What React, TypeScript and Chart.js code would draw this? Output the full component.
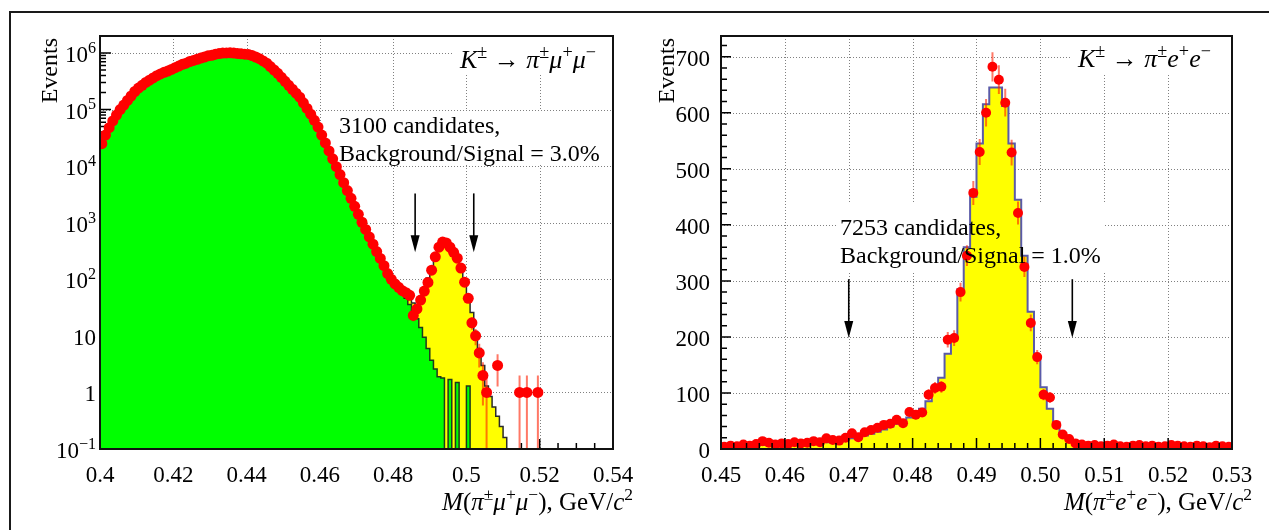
import React, { useEffect, useRef } from "react";
import { Chart, registerables } from "chart.js";

Chart.register(...registerables);

const SERIF = '"Liberation Serif", "Times New Roman", "DejaVu Serif", serif';

// ---------------- Left panel: K± → π± μ+ μ− (1 MeV bins from 0.400 GeV) ----------------
const muBinStart = 0.4;
const muBinWidth = 0.001;
const muData = [
  25000, 35500, 48000, 63000, 80000, 100000, 120000, 145000, 174000, 209000,
  240000, 269000, 302000, 331000, 363000, 398000, 427000, 457000, 479000, 513000,
  550000, 589000, 631000, 661000, 708000, 741000, 776000, 813000, 851000, 891000,
  912000, 955000, 977000, 1000000, 1005000, 1010000, 1000000, 985000, 970000, 955000,
  944000, 902000, 851000, 794000, 724000, 661000, 575000, 501000, 437000, 372000,
  316000, 269000, 229000, 195000, 166000, 132000, 105000, 83000, 64600, 49000,
  35500, 25700, 18600, 13500, 9800, 7100, 5100, 3700, 2700, 1950,
  1410, 1020, 760, 560, 417, 309, 234, 174, 126, 100,
  83, 72, 63, 58, 52, 23, 30, 43, 62, 88,
  145, 250, 370, 455, 440, 370, 300, 236, 158, 89,
  46, 17, 10, 5, 2, 1, 0, 0, 3, 0,
  0, 0, 0, 0, 1, 0, 1, 0, 0, 1,
];
const muBackgroundMC = [
  25000, 35500, 48000, 63000, 80000, 100000, 120000, 145000, 174000, 209000,
  240000, 269000, 302000, 331000, 363000, 398000, 427000, 457000, 479000, 513000,
  550000, 589000, 631000, 661000, 708000, 741000, 776000, 813000, 851000, 891000,
  912000, 955000, 977000, 1000000, 1005000, 1010000, 1000000, 985000, 970000, 955000,
  944000, 902000, 851000, 794000, 724000, 661000, 575000, 501000, 437000, 372000,
  316000, 269000, 229000, 195000, 166000, 132000, 105000, 83000, 64600, 49000,
  35500, 25700, 18600, 13500, 9800, 7100, 5100, 3700, 2700, 1950,
  1410, 1020, 760, 560, 417, 309, 225, 165, 118, 92,
  80, 68, 56, 46, 36, 27, 20, 14, 9.5, 6,
  3.7, 2.6, 1.9, 1.8, 0, 1.7, 0, 1.5, 0, 0,
  1.3, 0, 0, 0, 0, 0, 0, 0, 0, 0,
  0, 0, 0, 0, 0, 0, 0, 0, 0, 0,
];
const muSignalMC = [
  0, 0, 0, 0, 0, 0, 0, 0, 0, 0,
  0, 0, 0, 0, 0, 0, 0, 0, 0, 0,
  0, 0, 0, 0, 0, 0, 0, 0, 0, 0,
  0, 0, 0, 0, 0, 0, 0, 0, 0, 0,
  0, 0, 0, 0, 0, 0, 0, 0, 0, 0,
  0, 0, 0, 0, 0, 0, 0, 0, 0, 0,
  0, 0, 0, 0, 0, 0, 0, 0, 0, 0,
  0, 0, 0, 0, 0, 0, 0, 0, 0, 0,
  1, 1, 2, 4, 8, 11, 16, 32, 58, 99,
  161, 252, 348, 418, 440, 398, 320, 228, 150, 90,
  49, 26, 12, 6, 3, 1.3, 0.85, 0.55, 0.38, 0.25,
  0.16, 0.1, 0, 0, 0, 0, 0, 0, 0, 0,
];
const muXTicks = [0.4, 0.42, 0.44, 0.46, 0.48, 0.5, 0.52, 0.54];
const muYTicks = [0.1, 1, 10, 100, 1000, 10000, 100000, 1000000];
const muArrowX = [0.486, 0.502];
const muArrowY = [3300, 300]; // tail, tip

// ---------------- Right panel: K± → π± e+ e− (1 MeV bins from 0.450 GeV) ----------------
const eeBinStart = 0.45;
const eeBinWidth = 0.001;
const eeData = [
  4, 6, 5, 8, 6, 9, 14, 11, 8, 10,
  9, 12, 10, 11, 14, 12, 19, 16, 15, 20,
  28, 21, 30, 34, 38, 43, 45, 52, 46, 66,
  61, 65, 97, 109, 111, 195, 198, 280, 345, 457,
  530, 600, 682, 659, 618, 529, 421, 325, 225, 164,
  97, 92, 43, 26, 18, 10, 8, 6, 7, 5,
  6, 8, 5, 4, 6, 7, 5, 6, 4, 5,
  7, 6, 5, 4, 6, 5, 3, 6, 5, 4,
];
const eeMC = [
  5, 5, 5, 6, 6, 6, 7, 7, 7, 8,
  8, 9, 9, 10, 10, 11, 12, 13, 15, 17,
  19, 21, 24, 27, 31, 35, 40, 45, 50, 56,
  63, 72, 85, 110, 127, 170, 200, 285, 360, 450,
  545, 615, 645, 645, 612, 545, 445, 345, 245, 165,
  110, 72, 45, 28, 18, 12, 9, 7, 6, 6,
  5, 5, 5, 5, 4, 5, 5, 4, 5, 5,
  4, 5, 4, 5, 5, 4, 5, 4, 5, 4,
];
const eeXTicks = [0.45, 0.46, 0.47, 0.48, 0.49, 0.5, 0.51, 0.52, 0.53];
const eeYTicks = [0, 100, 200, 300, 400, 500, 600, 700];
const eeArrowX = [0.47, 0.505];
const eeArrowY = [303, 198];

// ---------------- helpers ----------------
type Seg = { t: string; it?: boolean; sup?: boolean };

function drawRich(ctx: CanvasRenderingContext2D, segs: Seg[], x: number, baseline: number, size: number, align: "left" | "right" = "left") {
  const supSize = size * 0.7;
  const font = (s: Seg) => `${s.it ? "italic " : ""}${s.sup ? supSize : size}px ${SERIF}`;
  const widths = segs.map((s) => {
    ctx.font = font(s);
    return ctx.measureText(s.t).width;
  });
  const total = widths.reduce((a, b) => a + b, 0);
  let cx = align === "right" ? x - total : x;
  ctx.textAlign = "left";
  ctx.textBaseline = "alphabetic";
  ctx.fillStyle = "#000";
  segs.forEach((s, i) => {
    ctx.font = font(s);
    ctx.fillText(s.t, cx, s.sup ? baseline - size * 0.4 : baseline);
    cx += widths[i];
  });
  return total;
}

function stepsBetween(lo: number, hi: number, step: number) {
  const out: number[] = [];
  const n = Math.round((hi - lo) / step);
  for (let k = 0; k <= n; k++) out.push(lo + k * step);
  return out;
}

function logMinors(minExp: number, max: number) {
  const out: number[] = [];
  for (let e = minExp; Math.pow(10, e) <= max; e++) {
    for (let k = 2; k <= 9; k++) {
      const v = k * Math.pow(10, e);
      if (v <= max) out.push(v);
    }
  }
  return out;
}

function histEdges(start: number, width: number, vals: number[], floor: number) {
  const pts = vals.map((v, i) => ({ x: start + i * width, y: v > 0 ? v : floor }));
  const last = vals[vals.length - 1];
  pts.push({ x: start + vals.length * width, y: last > 0 ? last : floor });
  return pts;
}

function binPoints(start: number, width: number, vals: number[]) {
  const pts: { x: number; y: number }[] = [];
  vals.forEach((v, i) => {
    if (v > 0) pts.push({ x: start + (i + 0.5) * width, y: v });
  });
  return pts;
}

const piPM: Seg[] = [{ t: "π", it: true }, { t: "±", sup: true }];

interface PanelSpec {
  id: string;
  gridX: number[];
  gridY: number[];
  xMajor: number[];
  xMinor: number[];
  yMajor: number[];
  yMinor: number[];
  xMajorLen: number;
  xMinorLen: number;
  yMajorLen: number;
  yMinorLen: number;
  ticksOnTop: boolean;
  boxes: { x0: number; y0: number; x1: number; y1: number }[];
  arrowX: number[];
  arrowY: number[];
  texts: { segs: Seg[]; x: number; y: number; size: number }[];
  title: Seg[];
  titleRight: number;
  titleBaseline: number;
  yTitleX: number;
  pointsIndex: number;
  binWidth: number;
  logLabels: number[] | null;
}

function drawTicks(chart: any, spec: PanelSpec) {
  const { ctx, chartArea: a } = chart;
  const xs = chart.scales.x;
  const ys = chart.scales.y;
  ctx.save();
  ctx.strokeStyle = "#000";
  ctx.lineWidth = 1.5;
  ctx.beginPath();
  const vx = (vals: number[], len: number) =>
    vals.forEach((v) => {
      const p = xs.getPixelForValue(v);
      if (p < a.left - 0.5 || p > a.right + 0.5) return;
      ctx.moveTo(p, a.bottom);
      ctx.lineTo(p, a.bottom - len);
    });
  const vy = (vals: number[], len: number) =>
    vals.forEach((v) => {
      const p = ys.getPixelForValue(v);
      if (p < a.top - 0.5 || p > a.bottom + 0.5) return;
      ctx.moveTo(a.left, p);
      ctx.lineTo(a.left + len, p);
    });
  vx(spec.xMajor, spec.xMajorLen);
  vx(spec.xMinor, spec.xMinorLen);
  vy(spec.yMajor, spec.yMajorLen);
  vy(spec.yMinor, spec.yMinorLen);
  ctx.stroke();
  ctx.restore();
}

function panelPlugin(spec: PanelSpec) {
  return {
    id: "panel-" + spec.id,
    beforeDatasetsDraw(chart: any) {
      const { ctx, chartArea: a } = chart;
      const xs = chart.scales.x;
      const ys = chart.scales.y;
      ctx.save();
      ctx.strokeStyle = "#808080";
      ctx.lineWidth = 1;
      ctx.setLineDash([1, 2]);
      ctx.beginPath();
      spec.gridX.forEach((v) => {
        const p = Math.round(xs.getPixelForValue(v)) + 0.5;
        ctx.moveTo(p, a.top);
        ctx.lineTo(p, a.bottom);
      });
      spec.gridY.forEach((v) => {
        const p = Math.round(ys.getPixelForValue(v)) + 0.5;
        ctx.moveTo(a.left, p);
        ctx.lineTo(a.right, p);
      });
      ctx.stroke();
      ctx.restore();
      ctx.save();
      ctx.fillStyle = "#ffffff";
      spec.boxes.forEach((b) => ctx.fillRect(b.x0, b.y0, b.x1 - b.x0, b.y1 - b.y0));
      ctx.restore();
      if (!spec.ticksOnTop) drawTicks(chart, spec);
    },
    beforeDatasetDraw(chart: any, args: any) {
      if (args.index !== spec.pointsIndex) return;
      const { ctx, chartArea: a } = chart;
      const xs = chart.scales.x;
      const ys = chart.scales.y;
      const pts = chart.data.datasets[spec.pointsIndex].data as { x: number; y: number }[];
      ctx.save();
      ctx.beginPath();
      ctx.rect(a.left, a.top, a.right - a.left, a.bottom - a.top);
      ctx.clip();
      ctx.strokeStyle = "rgba(255,30,0,0.6)";
      ctx.lineWidth = 2;
      ctx.beginPath();
      pts.forEach((p) => {
        const err = Math.sqrt(p.y);
        const px = xs.getPixelForValue(p.x);
        const top = ys.getPixelForValue(p.y + err);
        const lo = p.y - err;
        const bot = lo > 0 && (ys.min <= 0 || lo > ys.min) ? ys.getPixelForValue(lo) : a.bottom;
        ctx.moveTo(px, top);
        ctx.lineTo(px, bot);
        const py = ys.getPixelForValue(p.y);
        ctx.moveTo(xs.getPixelForValue(p.x - spec.binWidth / 2), py);
        ctx.lineTo(xs.getPixelForValue(p.x + spec.binWidth / 2), py);
      });
      ctx.stroke();
      ctx.restore();
    },
    afterDatasetsDraw(chart: any) {
      const { ctx, chartArea: a } = chart;
      const xs = chart.scales.x;
      const ys = chart.scales.y;
      if (spec.ticksOnTop) drawTicks(chart, spec);
      // frame
      ctx.save();
      ctx.strokeStyle = "#111";
      ctx.lineWidth = 2;
      ctx.strokeRect(a.left, a.top, a.right - a.left, a.bottom - a.top);
      ctx.restore();
      // arrows
      ctx.save();
      ctx.strokeStyle = "#000";
      ctx.fillStyle = "#000";
      ctx.lineWidth = 1.6;
      spec.arrowX.forEach((v) => {
        const px = xs.getPixelForValue(v);
        const y0 = ys.getPixelForValue(spec.arrowY[0]);
        const y1 = ys.getPixelForValue(spec.arrowY[1]);
        ctx.beginPath();
        ctx.moveTo(px, y0);
        ctx.lineTo(px, y1 - 10);
        ctx.stroke();
        ctx.beginPath();
        ctx.moveTo(px - 4.5, y1 - 17);
        ctx.lineTo(px + 4.5, y1 - 17);
        ctx.lineTo(px, y1);
        ctx.closePath();
        ctx.fill();
      });
      ctx.restore();
      // texts
      ctx.save();
      spec.texts.forEach((t) => drawRich(ctx, t.segs, t.x, t.y, t.size));
      drawRich(ctx, spec.title, spec.titleRight, spec.titleBaseline, 25, "right");
      ctx.font = `24px ${SERIF}`;
      ctx.fillStyle = "#000";
      ctx.translate(spec.yTitleX, a.top + 2);
      ctx.rotate(-Math.PI / 2);
      ctx.textAlign = "right";
      ctx.textBaseline = "middle";
      ctx.fillText("Events", 0, 0);
      ctx.restore();
      // log-axis labels with superscripts
      if (spec.logLabels) {
        ctx.save();
        spec.logLabels.forEach((v) => {
          const e = Math.round(Math.log10(v));
          const py = ys.getPixelForValue(v);
          const segs: Seg[] =
            e === 0 ? [{ t: "1" }] : e === 1 ? [{ t: "10" }] : [{ t: "10" }, { t: e < 0 ? "−" + Math.abs(e) : String(e), sup: true }];
          drawRich(ctx, segs, a.left - 4, py + 9, 23, "right");
        });
        ctx.restore();
      }
    },
  };
}

const tickFont = { family: SERIF, size: 23 };

function makeLeft() {
  const total = muBackgroundMC.map((b, i) => b + muSignalMC[i]);
  const spec: PanelSpec = {
    id: "mu",
    gridX: muXTicks.slice(1, -1),
    gridY: muYTicks.slice(1),
    xMajor: muXTicks,
    xMinor: stepsBetween(0.4, 0.54, 0.005),
    yMajor: muYTicks,
    yMinor: logMinors(-1, 2e6),
    xMajorLen: 10,
    xMinorLen: 6,
    yMajorLen: 11,
    yMinorLen: 6,
    ticksOnTop: false,
    boxes: [
      { x0: 452, y0: 37, x1: 612, y1: 75 },
      { x0: 335, y0: 111, x1: 606, y1: 165 },
    ],
    arrowX: muArrowX,
    arrowY: muArrowY,
    texts: [
      { segs: [{ t: "K", it: true }, { t: "±", sup: true }, { t: " → " }, ...piPM, { t: "μ", it: true }, { t: "+", sup: true }, { t: "μ", it: true }, { t: "−", sup: true }], x: 460, y: 68, size: 26 },
      { segs: [{ t: "3100 candidates," }], x: 339, y: 133, size: 24 },
      { segs: [{ t: "Background/Signal = 3.0%" }], x: 339, y: 161, size: 24 },
    ],
    title: [{ t: "M", it: true }, { t: "(" }, ...piPM, { t: "μ", it: true }, { t: "+", sup: true }, { t: "μ", it: true }, { t: "−", sup: true }, { t: "), GeV/" }, { t: "c", it: true }, { t: "2", sup: true }],
    titleRight: 633,
    titleBaseline: 510,
    yTitleX: 51,
    pointsIndex: 0,
    binWidth: muBinWidth,
    logLabels: muYTicks,
  };
  return {
    type: "line",
    data: {
      datasets: [
        {
          label: "Data",
          data: binPoints(muBinStart, muBinWidth, muData),
          showLine: false,
          fill: false,
          pointRadius: 5.5,
          pointBackgroundColor: "#ff0000",
          pointBorderWidth: 0,
          borderWidth: 0,
          order: 0,
          clip: 0,
        },
        {
          label: "Background MC",
          data: histEdges(muBinStart, muBinWidth, muBackgroundMC, 1e-3),
          stepped: true,
          fill: "start",
          backgroundColor: "#00ff00",
          borderColor: "#1d3a1d",
          borderWidth: 1.5,
          pointRadius: 0,
          order: 1,
          clip: 0,
        },
        {
          label: "Signal + background MC",
          data: histEdges(muBinStart, muBinWidth, total, 1e-3),
          stepped: true,
          fill: "start",
          backgroundColor: "#ffff00",
          borderColor: "#2a2a2a",
          borderWidth: 1.5,
          pointRadius: 0,
          order: 2,
          clip: 0,
        },
      ],
    },
    options: {
      responsive: false,
      animation: false,
      events: [],
      layout: { padding: { left: 0, top: 36, right: 27, bottom: 0 } },
      plugins: { legend: { display: false }, tooltip: { enabled: false } },
      scales: {
        x: {
          type: "linear",
          min: 0.4,
          max: 0.54,
          grid: { display: false },
          border: { display: false },
          afterBuildTicks: (s: any) => {
            s.ticks = muXTicks.map((value) => ({ value }));
          },
          afterFit: (s: any) => {
            s.height = 81;
          },
          ticks: {
            autoSkip: false,
            maxRotation: 0,
            padding: 5,
            color: "#000",
            font: tickFont,
            callback: (v: any) => String(Number(Number(v).toFixed(2))),
          },
        },
        y: {
          type: "logarithmic",
          min: 0.1,
          max: 2e6,
          grid: { display: false },
          border: { display: false },
          afterBuildTicks: (s: any) => {
            s.ticks = muYTicks.map((value) => ({ value }));
          },
          afterFit: (s: any) => {
            s.width = 100;
          },
          ticks: { display: false },
        },
      },
    },
    plugins: [panelPlugin(spec)],
  };
}

function makeRight() {
  const spec: PanelSpec = {
    id: "ee",
    gridX: eeXTicks.slice(1, -1),
    gridY: eeYTicks.slice(1),
    xMajor: eeXTicks,
    xMinor: stepsBetween(0.45, 0.53, 0.002),
    yMajor: eeYTicks,
    yMinor: stepsBetween(0, 720, 20),
    xMajorLen: 11,
    xMinorLen: 6,
    yMajorLen: 10,
    yMinorLen: 6,
    ticksOnTop: true,
    boxes: [
      { x0: 430, y0: 37, x1: 591, y1: 75 },
      { x0: 196, y0: 204, x1: 465, y1: 271 },
    ],
    arrowX: eeArrowX,
    arrowY: eeArrowY,
    texts: [
      { segs: [{ t: "K", it: true }, { t: "±", sup: true }, { t: " → " }, ...piPM, { t: "e", it: true }, { t: "+", sup: true }, { t: "e", it: true }, { t: "−", sup: true }], x: 438, y: 67, size: 26 },
      { segs: [{ t: "7253 candidates," }], x: 200, y: 235, size: 24 },
      { segs: [{ t: "Background/Signal = 1.0%" }], x: 200, y: 263, size: 24 },
    ],
    title: [{ t: "M", it: true }, { t: "(" }, ...piPM, { t: "e", it: true }, { t: "+", sup: true }, { t: "e", it: true }, { t: "−", sup: true }, { t: "), GeV/" }, { t: "c", it: true }, { t: "2", sup: true }],
    titleRight: 612,
    titleBaseline: 510,
    yTitleX: 28,
    pointsIndex: 0,
    binWidth: eeBinWidth,
    logLabels: null,
  };
  return {
    type: "line",
    data: {
      datasets: [
        {
          label: "Data",
          data: binPoints(eeBinStart, eeBinWidth, eeData),
          showLine: false,
          fill: false,
          pointRadius: 5,
          pointBackgroundColor: "#ff0000",
          pointBorderWidth: 0,
          borderWidth: 0,
          order: 0,
        },
        {
          label: "MC",
          data: histEdges(eeBinStart, eeBinWidth, eeMC, 0),
          stepped: true,
          fill: "start",
          backgroundColor: "#ffff00",
          borderColor: "#5a5aa8",
          borderWidth: 2,
          pointRadius: 0,
          order: 1,
          clip: 0,
        },
      ],
    },
    options: {
      responsive: false,
      animation: false,
      events: [],
      layout: { padding: { left: 0, top: 36, right: 37, bottom: 0 } },
      plugins: { legend: { display: false }, tooltip: { enabled: false } },
      scales: {
        x: {
          type: "linear",
          min: 0.45,
          max: 0.53,
          grid: { display: false },
          border: { display: false },
          afterBuildTicks: (s: any) => {
            s.ticks = eeXTicks.map((value) => ({ value }));
          },
          afterFit: (s: any) => {
            s.height = 81;
          },
          ticks: {
            autoSkip: false,
            maxRotation: 0,
            padding: 5,
            color: "#000",
            font: tickFont,
            callback: (v: any) => Number(v).toFixed(2),
          },
        },
        y: {
          type: "linear",
          min: 0,
          max: 737,
          grid: { display: false },
          border: { display: false },
          afterBuildTicks: (s: any) => {
            s.ticks = eeYTicks.map((value) => ({ value }));
          },
          afterFit: (s: any) => {
            s.width = 81;
          },
          ticks: {
            autoSkip: false,
            padding: 3,
            labelOffset: 3,
            color: "#000",
            font: tickFont,
            callback: (v: any) => String(v),
          },
        },
      },
    },
    plugins: [panelPlugin(spec)],
  };
}

function Panel({ make, left, width }: { make: () => any; left: number; width: number }) {
  const ref = useRef<HTMLCanvasElement>(null);
  useEffect(() => {
    const chart = new Chart(ref.current as HTMLCanvasElement, make());
    return () => chart.destroy();
  }, [make]);
  return (
    <canvas
      ref={ref}
      width={width}
      height={530}
      style={{ position: "absolute", left, top: 0, width, height: 530, display: "block" }}
    />
  );
}

export default function App() {
  return (
    <div style={{ position: "fixed", left: 0, top: 0, width: 1269, height: 530, background: "#fff", overflow: "hidden" }}>
      <div
        style={{
          position: "absolute",
          left: 9,
          top: 11,
          width: 1300,
          height: 600,
          borderLeft: "2px solid #1a1a1a",
          borderTop: "2px solid #1a1a1a",
        }}
      />
      <Panel make={makeLeft} left={0} width={640} />
      <Panel make={makeRight} left={640} width={629} />
    </div>
  );
}
